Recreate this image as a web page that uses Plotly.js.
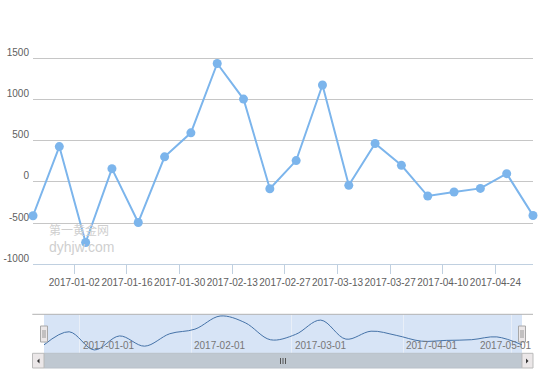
<!DOCTYPE html>
<html>
<head>
<meta charset="utf-8">
<script src="https://cdn.plot.ly/plotly-3.0.1.min.js"></script>
<style>html,body{margin:0;padding:0;background:#fff}#chart{width:550px;height:385px}</style>
</head>
<body>
<div id="chart"></div>
<script>
// ---- data ----
const dates = ['2016-12-22','2016-12-29','2017-01-05','2017-01-12','2017-01-19','2017-01-26','2017-02-02','2017-02-09','2017-02-16','2017-02-23','2017-03-02','2017-03-09','2017-03-16','2017-03-23','2017-03-30','2017-04-06','2017-04-13','2017-04-20','2017-04-27','2017-05-04'];
const values = [-410, 430, -735, 162, -492, 305, 597, 1439, 1007, -82, 260, 1178, -41, 467, 202, -171, -122, -78, 101, -407];
const yTickVals = [-1000, -500, 0, 500, 1000, 1500, 2000];
const yTickText = ['-1000', '-500', '0', '500', '1000', '1500', ''];
const navTicks = ['2017-01-01', '2017-02-01', '2017-03-01', '2017-04-01', '2017-05-01'];
const watermark = ['第一黄金网', 'dyhjw.com'];

// ---- layout helpers (pixel -> paper) ----
const L = 33, R = 533, T = 17, B = 368, W = 550, H = 385;
const px = x => (x - L) / (R - L);
const py = y => (B - y) / (B - T);
const FONT = '"Liberation Sans", Arial, sans-serif';
const FS = 10;
const first = dates[0], last = dates[dates.length - 1];

const mainTrace = {
  x: dates, y: values, type: 'scatter', mode: 'lines+markers',
  xaxis: 'x', yaxis: 'y', cliponaxis: false,
  line: {color: '#7cb5ec', width: 2},
  marker: {color: '#7cb5ec', size: 9, symbol: 'circle'},
  hoverinfo: 'x+y'
};
const navTrace = {
  x: dates, y: values, type: 'scatter', mode: 'lines',
  xaxis: 'x2', yaxis: 'y2',
  line: {color: '#4572a7', width: 1, shape: 'spline', smoothing: 1},
  hoverinfo: 'skip'
};

const shapes = [
  // navigator mask (selected range)
  {type: 'rect', xref: 'x2', yref: 'paper', x0: first, x1: last, y0: py(353.3), y1: py(314.3),
   fillcolor: '#d7e4f6', line: {width: 0}, layer: 'below'},
  // navigator outline top
  {type: 'line', xref: 'paper', yref: 'paper', x0: px(32.3), x1: px(533), y0: py(314.3), y1: py(314.3),
   line: {color: '#b2b2b2', width: 1}},
  // scrollbar track
  {type: 'rect', xref: 'paper', yref: 'paper', x0: px(44), x1: px(522), y0: py(368), y1: py(353.3),
   fillcolor: '#bfc8d1', line: {color: '#b8c0c8', width: 1}},
  // scrollbar buttons
  {type: 'rect', xref: 'paper', yref: 'paper', x0: px(32.5), x1: px(44), y0: py(368), y1: py(353.3),
   fillcolor: '#ebe7e8', line: {color: '#bbbbbb', width: 1}},
  {type: 'rect', xref: 'paper', yref: 'paper', x0: px(522), x1: px(533), y0: py(368), y1: py(353.3),
   fillcolor: '#ebe7e8', line: {color: '#bbbbbb', width: 1}},
  // arrows
  {type: 'path', xref: 'paper', yref: 'paper',
   path: `M ${px(39.5)} ${py(358.5)} L ${px(37)} ${py(361)} L ${px(39.5)} ${py(363.5)} Z`,
   fillcolor: '#333', line: {width: 0}},
  {type: 'path', xref: 'paper', yref: 'paper',
   path: `M ${px(526)} ${py(358.5)} L ${px(528.5)} ${py(361)} L ${px(526)} ${py(363.5)} Z`,
   fillcolor: '#333', line: {width: 0}},
  // rifles
  ...[280.5, 283, 285.5].map(x => ({type: 'line', xref: 'paper', yref: 'paper',
    x0: px(x), x1: px(x), y0: py(358), y1: py(364), line: {color: '#555', width: 1}})),
  // handles
  ...[44, 522].map(c => ({type: 'rect', xref: 'paper', yref: 'paper',
    x0: px(c - 3.5), x1: px(c + 3.5), y0: py(342), y1: py(326),
    fillcolor: '#ebe7e8', line: {color: '#a8a8a8', width: 1}})),
  ...[43, 45, 521, 523].map(x => ({type: 'line', xref: 'paper', yref: 'paper',
    x0: px(x), x1: px(x), y0: py(330), y1: py(338), line: {color: '#999', width: 1}}))
];

const annotations = [
  {text: watermark[0], xref: 'paper', yref: 'paper', x: px(47), y: py(229), xanchor: 'left', yanchor: 'middle',
   showarrow: false, font: {family: '"Noto Sans CJK SC", sans-serif', size: 12, color: '#cfcfcf'}},
  {text: watermark[1], xref: 'paper', yref: 'paper', x: px(47), y: py(247), xanchor: 'left', yanchor: 'middle',
   showarrow: false, font: {family: '"Liberation Sans", Arial, sans-serif', size: 14, color: '#cfcfcf'}},
  // navigator date labels (right of each month gridline; last one kept inside the chart)
  ...navTicks.map((d, i) => {
    const isLast = i === navTicks.length - 1;
    return {text: d, xref: 'x2', yref: 'paper', x: d, y: py(345.5),
      xanchor: isLast ? 'right' : 'left', yanchor: 'middle', xshift: isLast ? 23 : 1, showarrow: false,
      font: {family: FONT, size: FS, color: '#777'}};
  })
];

const layout = {
  width: W, height: H,
  margin: {l: L, r: W - R, t: T, b: H - B, pad: 0},
  paper_bgcolor: '#fff', plot_bgcolor: 'rgba(0,0,0,0)',
  showlegend: false,
  font: {family: FONT, size: FS, color: '#606060'},
  xaxis: {
    type: 'date', range: [first, last], domain: [0, 1], anchor: 'y',
    tick0: '2017-01-02', dtick: 14 * 86400000, tickformat: '%Y-%m-%d', tickangle: 0,
    ticks: 'outside', ticklen: 9, tickcolor: '#c0d0e0', tickwidth: 1,
    showline: true, linecolor: '#c0d0e0', linewidth: 1,
    showgrid: false, zeroline: false, fixedrange: true,
    tickfont: {family: FONT, size: FS, color: '#606060'}
  },
  yaxis: {
    domain: [py(264.3), py(17.3)], anchor: 'x', range: [-1000, 2000],
    tickmode: 'array', tickvals: yTickVals, ticktext: yTickText,
    showgrid: true, gridcolor: '#c6c6c6', gridwidth: 1, zeroline: false,
    showline: false, ticks: '', ticklabelshift: -6, ticklabelstandoff: 3,
    fixedrange: true,
    tickfont: {family: FONT, size: FS, color: '#606060'}
  },
  xaxis2: {
    type: 'date', range: [first, last], domain: [px(44), px(522)], anchor: 'y2',
    tickmode: 'array', tickvals: navTicks, showticklabels: false,
    showgrid: true, gridcolor: '#e9eff8', gridwidth: 1,
    showline: false, zeroline: false, ticks: '', fixedrange: true
  },
  yaxis2: {
    domain: [py(353.3), py(314.3)], anchor: 'x2', range: [-950, 1550],
    showgrid: false, zeroline: false, showticklabels: false, showline: false, fixedrange: true
  },
  shapes: shapes,
  annotations: annotations
};

Plotly.newPlot('chart', [navTrace, mainTrace], layout, {displayModeBar: false, staticPlot: true});
</script>
</body>
</html>
